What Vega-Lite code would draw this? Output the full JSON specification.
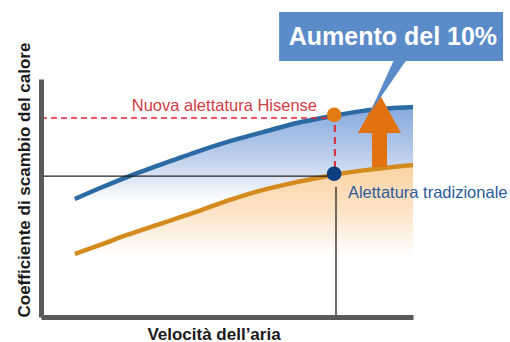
{
  "$schema": "https://vega.github.io/schema/vega-lite/v6.json",
  "autosize": "none",
  "width": 372,
  "height": 238,
  "padding": {"left": 41, "top": 79, "right": 97, "bottom": 25},
  "background": "#ffffff",
  "datasets": {
    "curves": [
      {"v": 9.1, "hisense": 49.6, "trad": 26.5},
      {"v": 15.9, "hisense": 54.2, "trad": 30.3},
      {"v": 23.1, "hisense": 58.8, "trad": 34.5},
      {"v": 32.0, "hisense": 63.9, "trad": 39.1},
      {"v": 40.9, "hisense": 68.9, "trad": 43.7},
      {"v": 50.8, "hisense": 73.9, "trad": 49.2},
      {"v": 59.7, "hisense": 77.7, "trad": 53.4},
      {"v": 68.8, "hisense": 81.5, "trad": 56.7},
      {"v": 78.5, "hisense": 84.5, "trad": 59.7},
      {"v": 86.6, "hisense": 86.6, "trad": 61.6},
      {"v": 100, "hisense": 88.2, "trad": 63.9}
    ],
    "hrules": [
      {"kind": "hisense", "v": 0, "v2": 78.5, "k": 83.6},
      {"kind": "trad", "v": 0, "v2": 78.0, "k": 59.2}
    ],
    "vrules": [
      {"kind": "hisense", "v": 79.0, "k": 80.7, "k2": 62.6},
      {"kind": "trad", "v": 79.3, "k": 54.7, "k2": 0}
    ],
    "dots": [
      {"kind": "hisense", "v": 78.8, "k": 84.9},
      {"kind": "trad", "v": 78.8, "k": 60.2}
    ],
    "arrow": [{"v": 91.0, "k": 78.4}],
    "box": [{"v": 64.0, "v2": 124.2, "k": 107.6, "k2": 128.2, "label": "Aumento del 10%", "tv": 94.6, "tk": 114.3}],
    "pointer": [{"v": 93.5, "k": 96.6}],
    "labels": [
      {"label": "Nuova alettatura Hisense", "v": 74.2, "k": 86.6},
      {"label": "Alettatura tradizionale", "v": 82.5, "k": 49.8}
    ]
  },
  "layer": [
    {
      "data": {"name": "curves"},
      "mark": {"type": "area", "interpolate": "monotone", "color": {"gradient": "linear", "x1": 0, "y1": 0, "x2": 0, "y2": 1, "stops": [{"offset": 0, "color": "#fcd2a3"}, {"offset": 0.3, "color": "#fde3c6"}, {"offset": 0.6, "color": "#ffffff"}]}},
      "encoding": {
        "x": {"field": "v", "type": "quantitative", "scale": {"domain": [0, 100], "nice": false, "zero": false}, "title": "Velocità dell’aria",
              "axis": {"titleX": 172.5, "titleY": 22, "titleAlign": "center", "titleBaseline": "alphabetic", "zindex": 1}},
        "y": {"field": "trad", "type": "quantitative", "scale": {"domain": [0, 100], "nice": false, "zero": false}, "title": "Coefficiente di scambio del calore",
              "axis": {"titleAngle": 270, "titleX": -12, "titleY": 238, "titleAlign": "left", "titleBaseline": "alphabetic", "zindex": 1}},
        "y2": {"datum": 0}
      }
    },
    {
      "data": {"name": "curves"},
      "mark": {"type": "area", "interpolate": "monotone", "color": {"gradient": "linear", "x1": 0, "y1": 0, "x2": 0, "y2": 1, "stops": [{"offset": 0, "color": "#86a9de"}, {"offset": 0.35, "color": "#bfd0ec"}, {"offset": 0.65, "color": "#ffffff"}]}},
      "encoding": {
        "x": {"field": "v", "type": "quantitative", "scale": {"domain": [0, 100], "nice": false, "zero": false}, "title": "Velocità dell’aria"},
        "y": {"field": "hisense", "type": "quantitative", "scale": {"domain": [0, 100], "nice": false, "zero": false}, "title": "Coefficiente di scambio del calore"},
        "y2": {"field": "trad"}
      }
    },
    {
      "data": {"name": "curves"},
      "mark": {"type": "line", "interpolate": "monotone", "color": "#2c6aa3", "strokeWidth": 4.5},
      "encoding": {
        "x": {"field": "v", "type": "quantitative", "scale": {"domain": [0, 100], "nice": false, "zero": false}, "title": "Velocità dell’aria"},
        "y": {"field": "hisense", "type": "quantitative", "scale": {"domain": [0, 100], "nice": false, "zero": false}, "title": "Coefficiente di scambio del calore"}
      }
    },
    {
      "data": {"name": "curves"},
      "mark": {"type": "line", "interpolate": "monotone", "color": "#d48b1e", "strokeWidth": 4.5},
      "encoding": {
        "x": {"field": "v", "type": "quantitative", "scale": {"domain": [0, 100], "nice": false, "zero": false}, "title": "Velocità dell’aria"},
        "y": {"field": "trad", "type": "quantitative", "scale": {"domain": [0, 100], "nice": false, "zero": false}, "title": "Coefficiente di scambio del calore"}
      }
    },
    {
      "data": {"name": "hrules"},
      "transform": [{"filter": "datum.kind == 'hisense'"}],
      "mark": {"type": "rule", "color": "#e8242f", "strokeDash": [6, 4], "strokeWidth": 1.6},
      "encoding": {
        "x": {"field": "v", "type": "quantitative", "scale": {"domain": [0, 100], "nice": false, "zero": false}, "title": "Velocità dell’aria"},
        "x2": {"field": "v2"},
        "y": {"field": "k", "type": "quantitative", "scale": {"domain": [0, 100], "nice": false, "zero": false}, "title": "Coefficiente di scambio del calore"}
      }
    },
    {
      "data": {"name": "hrules"},
      "transform": [{"filter": "datum.kind == 'trad'"}],
      "mark": {"type": "rule", "color": "#222222", "strokeWidth": 1.3},
      "encoding": {
        "x": {"field": "v", "type": "quantitative", "scale": {"domain": [0, 100], "nice": false, "zero": false}, "title": "Velocità dell’aria"},
        "x2": {"field": "v2"},
        "y": {"field": "k", "type": "quantitative", "scale": {"domain": [0, 100], "nice": false, "zero": false}, "title": "Coefficiente di scambio del calore"}
      }
    },
    {
      "data": {"name": "vrules"},
      "transform": [{"filter": "datum.kind == 'hisense'"}],
      "mark": {"type": "rule", "color": "#d42a3a", "strokeDash": [7, 5], "strokeWidth": 2},
      "encoding": {
        "x": {"field": "v", "type": "quantitative", "scale": {"domain": [0, 100], "nice": false, "zero": false}, "title": "Velocità dell’aria"},
        "y": {"field": "k", "type": "quantitative", "scale": {"domain": [0, 100], "nice": false, "zero": false}, "title": "Coefficiente di scambio del calore"},
        "y2": {"field": "k2"}
      }
    },
    {
      "data": {"name": "vrules"},
      "transform": [{"filter": "datum.kind == 'trad'"}],
      "mark": {"type": "rule", "color": "#222222", "strokeWidth": 1.3},
      "encoding": {
        "x": {"field": "v", "type": "quantitative", "scale": {"domain": [0, 100], "nice": false, "zero": false}, "title": "Velocità dell’aria"},
        "y": {"field": "k", "type": "quantitative", "scale": {"domain": [0, 100], "nice": false, "zero": false}, "title": "Coefficiente di scambio del calore"},
        "y2": {"field": "k2"}
      }
    },
    {
      "data": {"name": "dots"},
      "transform": [{"filter": "datum.kind == 'hisense'"}],
      "mark": {"type": "circle", "size": 215, "opacity": 1, "color": "#e27a12"},
      "encoding": {
        "x": {"field": "v", "type": "quantitative", "scale": {"domain": [0, 100], "nice": false, "zero": false}, "title": "Velocità dell’aria"},
        "y": {"field": "k", "type": "quantitative", "scale": {"domain": [0, 100], "nice": false, "zero": false}, "title": "Coefficiente di scambio del calore"}
      }
    },
    {
      "data": {"name": "dots"},
      "transform": [{"filter": "datum.kind == 'trad'"}],
      "mark": {"type": "circle", "size": 215, "opacity": 1, "color": "#0e3e82"},
      "encoding": {
        "x": {"field": "v", "type": "quantitative", "scale": {"domain": [0, 100], "nice": false, "zero": false}, "title": "Velocità dell’aria"},
        "y": {"field": "k", "type": "quantitative", "scale": {"domain": [0, 100], "nice": false, "zero": false}, "title": "Coefficiente di scambio del calore"}
      }
    },
    {
      "data": {"name": "arrow"},
      "mark": {"type": "point", "shape": "M-0.205,1L0.205,1L0.205,0.068L0.589,0.068L0,-1L-0.589,0.068L-0.205,0.068Z", "size": 5329, "filled": true, "color": "#e2710f", "opacity": 1, "strokeWidth": 0},
      "encoding": {
        "x": {"field": "v", "type": "quantitative", "scale": {"domain": [0, 100], "nice": false, "zero": false}, "title": "Velocità dell’aria"},
        "y": {"field": "k", "type": "quantitative", "scale": {"domain": [0, 100], "nice": false, "zero": false}, "title": "Coefficiente di scambio del calore"}
      }
    },
    {
      "data": {"name": "box"},
      "mark": {"type": "rect", "color": "#5b8bc9"},
      "encoding": {
        "x": {"field": "v", "type": "quantitative", "scale": {"domain": [0, 100], "nice": false, "zero": false}, "title": "Velocità dell’aria"},
        "x2": {"field": "v2"},
        "y": {"field": "k", "type": "quantitative", "scale": {"domain": [0, 100], "nice": false, "zero": false}, "title": "Coefficiente di scambio del calore"},
        "y2": {"field": "k2"}
      }
    },
    {
      "data": {"name": "pointer"},
      "mark": {"type": "point", "shape": "M0.23,-1.12L0.73,-1.12L-0.73,1Z", "size": 2704, "filled": true, "color": "#5b8bc9", "opacity": 1, "strokeWidth": 0},
      "encoding": {
        "x": {"field": "v", "type": "quantitative", "scale": {"domain": [0, 100], "nice": false, "zero": false}, "title": "Velocità dell’aria"},
        "y": {"field": "k", "type": "quantitative", "scale": {"domain": [0, 100], "nice": false, "zero": false}, "title": "Coefficiente di scambio del calore"}
      }
    },
    {
      "data": {"name": "box"},
      "mark": {"type": "text", "font": "Liberation Sans", "fontSize": 25, "fontWeight": "bold", "color": "#ffffff", "align": "center", "baseline": "alphabetic"},
      "encoding": {
        "x": {"field": "tv", "type": "quantitative", "scale": {"domain": [0, 100], "nice": false, "zero": false}, "title": "Velocità dell’aria"},
        "y": {"field": "tk", "type": "quantitative", "scale": {"domain": [0, 100], "nice": false, "zero": false}, "title": "Coefficiente di scambio del calore"},
        "text": {"field": "label"}
      }
    },
    {
      "data": {"name": "labels"},
      "transform": [{"filter": "datum.label == 'Nuova alettatura Hisense'"}],
      "mark": {"type": "text", "font": "Liberation Sans", "fontSize": 16.5, "color": "#d33c44", "align": "right", "baseline": "alphabetic"},
      "encoding": {
        "x": {"field": "v", "type": "quantitative", "scale": {"domain": [0, 100], "nice": false, "zero": false}, "title": "Velocità dell’aria"},
        "y": {"field": "k", "type": "quantitative", "scale": {"domain": [0, 100], "nice": false, "zero": false}, "title": "Coefficiente di scambio del calore"},
        "text": {"field": "label"}
      }
    },
    {
      "data": {"name": "labels"},
      "transform": [{"filter": "datum.label == 'Alettatura tradizionale'"}],
      "mark": {"type": "text", "font": "Liberation Sans", "fontSize": 16.5, "color": "#2b5b9b", "align": "left", "baseline": "alphabetic"},
      "encoding": {
        "x": {"field": "v", "type": "quantitative", "scale": {"domain": [0, 100], "nice": false, "zero": false}, "title": "Velocità dell’aria"},
        "y": {"field": "k", "type": "quantitative", "scale": {"domain": [0, 100], "nice": false, "zero": false}, "title": "Coefficiente di scambio del calore"},
        "text": {"field": "label"}
      }
    }
  ],
  "config": {
    "view": {"stroke": null},
    "axis": {
      "grid": false, "labels": false, "ticks": false,
      "domainColor": "#5a5a5a", "domainWidth": 5,
      "titleFont": "Liberation Sans", "titleFontSize": 17, "titleFontWeight": "bold", "titleColor": "#1a1a1a"
    }
  }
}
